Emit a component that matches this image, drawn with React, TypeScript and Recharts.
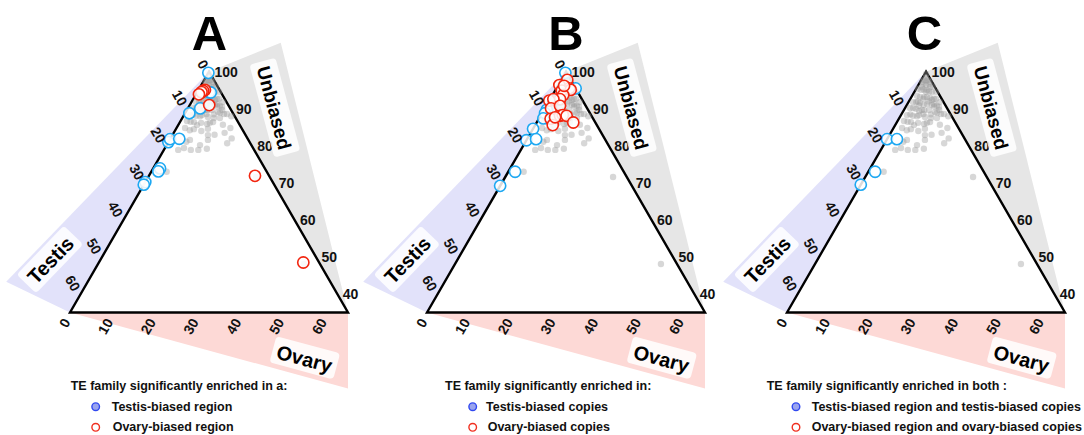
import React from 'react';
import { ScatterChart, Scatter, XAxis, YAxis } from 'recharts';

// ---------- data (ternary %: [testis, ovary]; unbiased = 100 - testis - ovary) ----------
const backgroundFamilies: [number, number][] = [
  [0.3, 0.3], [0.8, 0.8], [1.55, 0.65], [0.65, 1.55], [2.35, 0.95], [0.95, 2.35], [3.0, 1.1], [1.1, 3.0],
  [3.6, 1.3], [2.2, 2.7], [2.7, 2.7], [1.35, 4.15], [5.35, 1.15], [3.85, 2.95], [2.6, 4.5], [1.3, 6.0],
  [0.35, 5.05], [6.4, 1.8], [2.4, 5.2], [7.15, 1.05], [5.6, 2.8], [4.1, 4.6], [2.5, 6.2], [2.05, 7.15],
  [1.7, 7.8], [8.65, 1.15], [7.35, 2.65], [6.1, 4.2], [4.45, 5.85], [3.35, 7.55], [2.2, 9.2], [2.05, 8.25],
  [10.3, 1.4], [9.0, 2.9], [7.5, 4.2], [6.35, 5.85], [5.1, 7.4], [3.7, 8.8], [5.85, 7.75], [11.05, 2.45],
  [11.8, 1.5], [10.3, 3.3], [8.75, 5.05], [7.5, 6.6], [13.2, 2.0], [10.0, 4.4], [7.95, 7.45], [8.8, 8.3],
  [3.7, 14.3], [17.75, 3.35], [12.0, 7.8], [9.45, 8.95], [13.05, 8.05], [23.4, 3.6], [13.65, 4.75],
  [14.75, 4.15], [16.15, 4.45], [3.2, 25.2], [3.75, 48.15],
  [1.8, 1.8], [0.5, 2.2], [2.2, 0.5], [4.2, 0.4], [0.4, 3.6], [3.2, 3.6], [4.8, 2.0], [1.8, 5.5],
  [6.2, 2.9], [3.1, 5.8], [5.0, 3.9], [0.9, 7.3], [7.9, 1.9], [4.6, 6.9], [6.9, 3.7], [2.9, 8.1],
  [9.4, 2.1], [8.1, 3.9], [5.6, 4.8], [1.5, 9.9], [3.9, 10.4], [6.7, 7.1], [9.8, 6.2], [11.3, 4.2],
  [12.4, 3.4], [4.6, 11.9], [7.2, 9.8], [0.8, 11.2], [2.6, 12.6], [10.9, 9.9], [14.8, 6.3], [5.4, 13.9],
  [1.2, 1.2], [2.9, 1.9], [1.9, 3.4], [4.3, 3.0], [3.4, 4.6], [5.9, 2.1], [2.8, 6.6], [6.3, 5.1],
];

const regionTestis: [number, number][] = [
  [0.3, 0], [2.7, 2.8], [2.4, 3.2], [7.0, 2.9], [10.2, 1.0], [19, 0], [18.2, 0], [16, 2.1],
  [24.5, 1.6], [25.3, 1.6], [29.8, 0], [30.5, 0],
];
const regionOvary: [number, number][] = [
  [3.4, 1.5], [3.95, 1.25], [4.5, 1.0], [5.4, 0.7], [4.45, 4.55], [3.3, 24.8], [3.7, 47.8],
];
const copiesTestis: [number, number][] = [
  [0.3, 0], [0, 4.5], [5.6, 2.0], [9.65, 0.65], [10.5, 0.7], [11.6, 1.0], [15.4, 0], [18.5, 0],
  [16.1, 2.1], [25.4, 1.6], [30.8, 0],
];
const copiesOvary: [number, number][] = [
  [0.8, 1.4], [1.5, 3.0], [3.35, 0.25], [3.55, 1.55], [1.35, 3.55], [3.8, 2.5], [5.1, 2.3], [7.8, 0],
  [6.65, 0.75], [8.45, 1.45], [6.0, 3.2], [9.95, 2.75], [10.3, 4.1], [7.35, 4.55], [6.6, 5.1],
  [5.8, 6.1], [5.15, 8.55], [8.7, 3.6], [2.35, 1.45],
];
const bothTestis: [number, number][] = [[18.2, 0], [15.9, 2.3], [25.4, 1.6], [30.5, 0]];
const bothOvary: [number, number][] = [];

const testisTicks = [0, 10, 20, 30, 40, 50, 60];
const ovaryTicks = [0, 10, 20, 30, 40, 50, 60];
const unbiasedTicks = [100, 90, 80, 70, 60, 50, 40];
const axisTitles = ['Testis', 'Unbiased', 'Ovary'];
const panelLetters = ['A', 'B', 'C'];
const legendTitles = [
  'TE family significantly enriched in a:',
  'TE family significantly enriched in:',
  'TE family significantly enriched in both :',
];
const legendTestis = ['Testis-biased region', 'Testis-biased copies', 'Testis-biased region and testis-biased copies'];
const legendOvary = ['Ovary-biased region', 'Ovary-biased copies', 'Ovary-biased region and ovary-biased copies'];

// ---------- geometry / layout ----------
const SPAN = 65;
const S3 = Math.sqrt(3) / 2;
const TRI_H = SPAN * S3;
const toXY = (t: number, o: number) => ({ x: 0.5 * (o - t), y: TRI_H - S3 * (t + o) });

const W = 367;
const HT = 435;
const CX = 209;
const BASE = 312.5;
const K = 278 / SPAN;
const X_DOMAIN = [-CX / K, (W - CX) / K];
const Y_DOMAIN = [-(HT - BASE) / K, BASE / K];
const PANEL_LEFT = [0, 357, 717];
const FONT = '"Liberation Sans", Arial, Helvetica, sans-serif';

const TOP = toXY(0, 0);
const BL = toXY(SPAN, 0);
const BR = toXY(0, SPAN);
const rotCW = (pivot: any, p: any, deg: number, scale: number) => {
  const a = (deg * Math.PI) / 180;
  const vx = p.x - pivot.x, vy = p.y - pivot.y;
  return {
    x: pivot.x + scale * (vx * Math.cos(a) + vy * Math.sin(a)),
    y: pivot.y + scale * (-vx * Math.sin(a) + vy * Math.cos(a)),
  };
};
const testisBand = [TOP, BL, rotCW(TOP, BL, 14, 1.05)];
const unbiasedBand = [BR, TOP, rotCW(BR, TOP, 16, 1.0)];
const ovaryBand = [BL, BR, { x: BR.x, y: -SPAN * Math.tan((15.3 * Math.PI) / 180) }];
const triangle = [TOP, BL, BR];

const TITLE_POS = [
  { x: -37.2, y: 12.4, angle: -46, w: 68, fs: 20 },
  { x: 15.4, y: 47.9, angle: 75, w: 96, fs: 19 },
  { x: 22.4, y: -10.6, angle: 15, w: 66, fs: 20 },
];

const polygonLine = (fill: string, stroke = 'none', sw = 0) => (props: any) => {
  const pts = (props.points || []).map((p: any) => `${p.x},${p.y}`).join(' ');
  return <polygon points={pts} fill={fill} stroke={stroke} strokeWidth={sw} strokeLinejoin="miter" />;
};
const noShape = () => <g />;

const circleShape = (stroke: string) => (p: any) => (
  <circle cx={p.cx} cy={p.cy} r={5.6} fill="#ffffff" fillOpacity={0.85} stroke={stroke} strokeWidth={1.6} />
);
const grayShape = (p: any) => <circle cx={p.cx} cy={p.cy} r={3.2} fill="#9a9a9a" fillOpacity={0.4} />;

const tickText = { fontFamily: FONT, fontWeight: 700, fontSize: 14, fill: '#111' };
const leftTickShape = (p: any) => {
  const x = p.cx - 4, y = p.cy - 4;
  return (
    <text x={x} y={y} transform={`rotate(60 ${x} ${y})`} textAnchor="end" dominantBaseline="central" style={tickText}>
      {p.payload.label}
    </text>
  );
};
const bottomTickShape = (p: any) => {
  const x = p.cx - 3.5, y = p.cy + 7;
  return (
    <text x={x} y={y} transform={`rotate(-60 ${x} ${y})`} textAnchor="end" dominantBaseline="central" style={tickText}>
      {p.payload.label}
    </text>
  );
};
const rightTickShape = (p: any) => (
  <text x={p.cx + 5.5} y={p.cy} textAnchor="start" dominantBaseline="central" style={tickText}>
    {p.payload.label}
  </text>
);
const titleShape = (p: any) => {
  const s = p.payload;
  return (
    <g transform={`translate(${p.cx},${p.cy}) rotate(${s.angle})`}>
      <rect x={-s.w / 2} y={-13.5} width={s.w} height={27} rx={4} fill="#ffffff" fillOpacity={0.85} />
      <text x={0} y={1} textAnchor="middle" dominantBaseline="central"
        style={{ fontFamily: FONT, fontWeight: 700, fontSize: s.fs, fill: '#000' }}>
        {s.label}
      </text>
    </g>
  );
};

const pts = (arr: [number, number][]) => arr.map(([t, o]) => ({ ...toXY(t, o), testis: t, ovary: o, unbiased: 100 - t - o }));

function Panel({ testis, ovary, showZero }: { testis: [number, number][]; ovary: [number, number][]; showZero: boolean }) {
  const leftTicks = testisTicks.filter((v) => showZero || v !== 0).map((v) => ({ ...toXY(v, 0), label: String(v) }));
  const bottomTicks = ovaryTicks.map((v) => ({ ...toXY(SPAN - v, v), label: String(v) }));
  const rightTicks = unbiasedTicks.map((v) => ({ ...toXY(0, 100 - v), label: String(v) }));
  const titles = axisTitles.map((label, i) => ({ ...TITLE_POS[i], label }));
  return (
    <ScatterChart width={W} height={HT} margin={{ top: 0, right: 0, bottom: 0, left: 0 }}>
      <XAxis type="number" dataKey="x" domain={X_DOMAIN} hide allowDataOverflow />
      <YAxis type="number" dataKey="y" domain={Y_DOMAIN} hide allowDataOverflow />
      <Scatter data={testisBand} line={polygonLine('#e2e2fa')} shape={noShape} isAnimationActive={false} />
      <Scatter data={unbiasedBand} line={polygonLine('#e6e6e6')} shape={noShape} isAnimationActive={false} />
      <Scatter data={ovaryBand} line={polygonLine('#fdd9d6')} shape={noShape} isAnimationActive={false} />
      <Scatter data={triangle} line={polygonLine('#ffffff', '#000000', 2.4)} shape={noShape} isAnimationActive={false} />
      <Scatter data={pts(backgroundFamilies)} shape={grayShape} isAnimationActive={false} />
      <Scatter data={pts(testis)} shape={circleShape('#1ea8f2')} isAnimationActive={false} />
      <Scatter data={pts(ovary)} shape={circleShape('#f2250f')} isAnimationActive={false} />
      <Scatter data={leftTicks} shape={leftTickShape} isAnimationActive={false} />
      <Scatter data={bottomTicks} shape={bottomTickShape} isAnimationActive={false} />
      <Scatter data={rightTicks} shape={rightTickShape} isAnimationActive={false} />
      <Scatter data={titles} shape={titleShape} isAnimationActive={false} />
    </ScatterChart>
  );
}

const LEGEND = [
  { title: 70.7, dot: 95.7, text: 111.7, text2: 112.7 },
  { title: 445, dot: 472.7, text: 486, text2: 487.7 },
  { title: 766.7, dot: 796, text: 811.7, text2: 811.7 },
];
const LETTER_X = [209.5, 566, 924.5];

export default function App() {
  const series = [
    { t: regionTestis, o: regionOvary, zero: true },
    { t: copiesTestis, o: copiesOvary, zero: true },
    { t: bothTestis, o: bothOvary, zero: false },
  ];
  const legendText = { fontFamily: FONT, fontWeight: 700, fontSize: 12.5, fill: '#111' };
  return (
    <div style={{ position: 'absolute', left: 0, top: 0, width: 1084, height: 435, background: '#fff', overflow: 'hidden' }}>
      {series.map((s, i) => (
        <div key={i} style={{ position: 'absolute', left: PANEL_LEFT[i], top: 0, width: W, height: HT }}>
          <Panel testis={s.t} ovary={s.o} showZero={s.zero} />
        </div>
      ))}
      <svg width={1084} height={435} style={{ position: 'absolute', left: 0, top: 0, pointerEvents: 'none' }}>
        {panelLetters.map((l, i) => (
          <text key={l} x={LETTER_X[i]} y={50} textAnchor="middle"
            style={{ fontFamily: FONT, fontWeight: 700, fontSize: 49, fill: '#000' }}>{l}</text>
        ))}
        {legendTitles.map((t, i) => (
          <g key={i}>
            <text x={LEGEND[i].title} y={389.5} style={legendText}>{t}</text>
            <circle cx={LEGEND[i].dot} cy={406.7} r={3.8} fill="#9aa4ee" stroke="#3048f0" strokeWidth={1.4} />
            <text x={LEGEND[i].text} y={410.7} style={legendText}>{legendTestis[i]}</text>
            <circle cx={LEGEND[i].dot} cy={427.3} r={3.8} fill="#ffffff" stroke="#f03020" strokeWidth={1.4} />
            <text x={LEGEND[i].text2} y={431.2} style={legendText}>{legendOvary[i]}</text>
          </g>
        ))}
      </svg>
    </div>
  );
}
